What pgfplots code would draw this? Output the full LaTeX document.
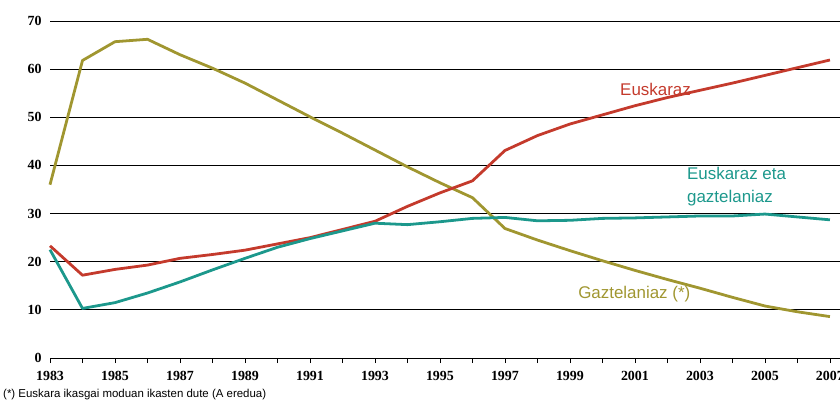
\documentclass[border=0pt]{standalone}
\usepackage{pgfplots}
\pgfplotsset{compat=1.18}
\usepackage{fontspec}
\setmainfont{Liberation Sans}
\newfontfamily\tickfont{Liberation Serif}
\definecolor{euskred}{RGB}{196,58,44}
\definecolor{biteal}{RGB}{28,152,140}
\definecolor{gazolive}{RGB}{160,150,48}
\begin{document}
\begin{tikzpicture}[x=1bp,y=1bp]
\useasboundingbox (0,0) rectangle (840,400);
\begin{axis}[
  at={(50bp,42bp)}, anchor=south west,
  scale only axis, width=790bp, height=337bp,
  xmin=1983, xmax=2007.31, ymin=0, ymax=70,
  axis x line*=bottom, axis y line*=left,
  y axis line style={draw=none},
  x axis line style={black, line width=0.9pt},
  ytick={0,10,...,70},
  xtick={1983,1985,...,2007},
  minor xtick={1984,1986,...,2006},
  ymajorgrids, grid style={black, line width=0.9pt},
  tick align=outside,
  major tick length=5bp, minor tick length=5bp,
  x tick style={black, line width=0.8pt},
  y tick style={draw=none},
  /pgf/number format/1000 sep={},
  /pgf/number format/assume math mode=true,
  xticklabel style={font=\tickfont\bfseries\fontsize{14}{15}\selectfont, yshift=-5bp},
  yticklabel style={font=\tickfont\bfseries\fontsize{14}{15}\selectfont},
  clip=false,
]
\addplot[gazolive, line width=2.8pt, line join=round] coordinates {
 (1983,36) (1984,61.8) (1985,65.7) (1986,66.2) (1987,63.0) (1988,60.2) (1989,57.1)
 (1990,53.6) (1991,50.1) (1992,46.7) (1993,43.2) (1994,39.7) (1995,36.4) (1996,33.3)
 (1997,26.9) (1998,24.5) (1999,22.3) (2000,20.2) (2001,18.2) (2002,16.3) (2003,14.5)
 (2004,12.6) (2005,10.8) (2006,9.6) (2007,8.6)};
\addplot[euskred, line width=2.8pt, line join=round] coordinates {
 (1983,23.3) (1984,17.2) (1985,18.4) (1986,19.3) (1987,20.7) (1988,21.5) (1989,22.4)
 (1990,23.7) (1991,25.0) (1992,26.7) (1993,28.4) (1994,31.5) (1995,34.3) (1996,36.8)
 (1997,43.1) (1998,46.2) (1999,48.6) (2000,50.5) (2001,52.4) (2002,54.1) (2003,55.6)
 (2004,57.1) (2005,58.7) (2006,60.3) (2007,61.9)};
\addplot[biteal, line width=2.8pt, line join=round] coordinates {
 (1983,22.5) (1984,10.3) (1985,11.5) (1986,13.5) (1987,15.8) (1988,18.3) (1989,20.7)
 (1990,23.0) (1991,24.8) (1992,26.4) (1993,28.0) (1994,27.7) (1995,28.3) (1996,29.0)
 (1997,29.2) (1998,28.5) (1999,28.6) (2000,29.0) (2001,29.1) (2002,29.3) (2003,29.5)
 (2004,29.5) (2005,29.9) (2006,29.3) (2007,28.7)};
\node[anchor=base west, inner sep=0, text=euskred, font=\fontsize{17}{20}\selectfont] at (axis cs:2000.54,54.6) {Euskaraz};
\node[anchor=base west, inner sep=0, text=biteal, font=\fontsize{17}{20}\selectfont] at (axis cs:2002.6,37.0) {Euskaraz eta};
\node[anchor=base west, inner sep=0, text=biteal, font=\fontsize{17}{20}\selectfont] at (axis cs:2002.6,32.4) {gaztelaniaz};
\node[anchor=base west, inner sep=0, text=gazolive, font=\fontsize{17}{20}\selectfont] at (axis cs:1999.25,12.46) {Gaztelaniaz (*)};
\end{axis}
\node[anchor=base west, inner sep=0, font=\fontsize{11.5}{13}\selectfont] at (3,3) {(*) Euskara ikasgai moduan ikasten dute (A eredua)};
\end{tikzpicture}
\end{document}
